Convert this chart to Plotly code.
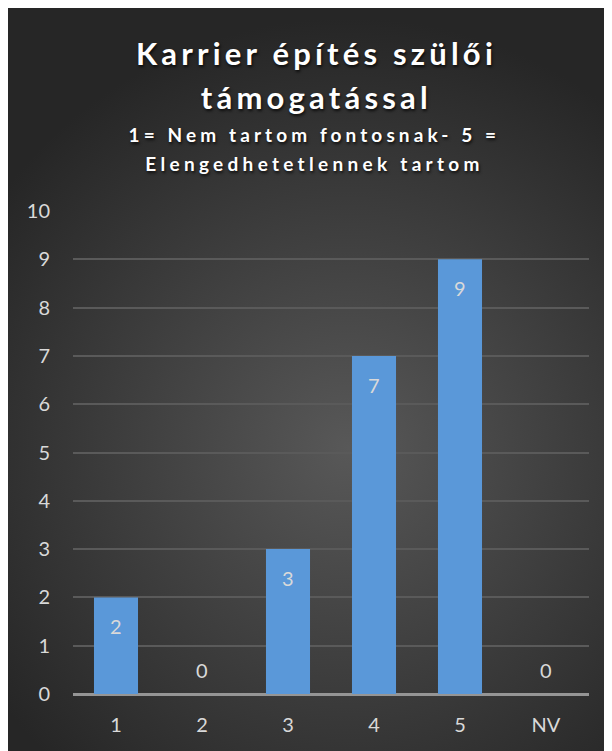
import base64
import json
import plotly.graph_objects as go

categories = ["1", "2", "3", "4", "5", "NV"]
values = [2, 0, 3, 7, 9, 0]
y_ticks = list(range(0, 11))

title_lines = ["Karrier építés szülői", "támogatással"]
subtitle_lines = ["1= Nem tartom fontosnak- 5 =", "Elengedhetetlennek tartom"]

# figure pixel geometry (page offset of 8px from the browser body margin)
W, H = 612, 751
L, R, T, B = 65, 31, 203, 65
pw, ph = W - L - R, H - T - B


def px_x(x):
    return (x - L) / pw


def px_y(y):
    return (H - B - y) / ph


svg = (
    '<svg xmlns="http://www.w3.org/2000/svg" width="612" height="751" viewBox="0 0 612 751" preserveAspectRatio="none">'
    '<defs><radialGradient id="g" gradientUnits="userSpaceOnUse" cx="340" cy="440" r="430">'
    '<stop offset="0%" stop-color="#585858"/>'
    '<stop offset="100%" stop-color="#262626"/>'
    '</radialGradient></defs>'
    '<rect x="0" y="0" width="612" height="751" fill="url(#g)"/></svg>'
)
src = "data:image/svg+xml;base64," + base64.b64encode(svg.encode()).decode()

fig = go.Figure()
fig.add_trace(go.Bar(
    x=categories, y=values,
    marker=dict(color="#5a98d9", line=dict(width=0)),
    width=0.512,
    hoverinfo="skip",
))

label_font = dict(family="Lato", size=20, color="#d9d9d9")
ann = []
for i, v in enumerate(values):
    ann.append(dict(
        x=i, y=v, xref="x", yref="y", text=str(v), showarrow=False,
        yanchor="middle", yshift=-29 if v > 0 else 24,
        font=label_font,
    ))

shadow = "1px 2px 3px rgba(0,0,0,0.75)"
title_font = dict(family="Lato", size=31, color="#ffffff", weight="bold", shadow=shadow)
sub_font = dict(family="Lato", size=19, color="#ffffff", weight="bold", shadow=shadow)
for txt, yc in zip(title_lines, [45, 89]):
    ann.append(dict(x=px_x(308), y=px_y(yc), xref="paper", yref="paper",
                    text=txt, showarrow=False, xanchor="center", yanchor="middle",
                    font=title_font))
for txt, yc in zip(subtitle_lines, [126.5, 155.5]):
    ann.append(dict(x=px_x(306), y=px_y(yc), xref="paper", yref="paper",
                    text=txt, showarrow=False, xanchor="center", yanchor="middle",
                    font=sub_font))

fig.update_layout(
    width=W, height=H,
    margin=dict(l=L, r=R, t=T, b=B, pad=0),
    paper_bgcolor="#2e2e2e",
    plot_bgcolor="rgba(0,0,0,0)",
    showlegend=False,
    bargap=0.488,
    annotations=ann,
    images=[dict(source=src, xref="paper", yref="paper",
                 x=px_x(0), y=px_y(0), sizex=W / pw, sizey=H / ph,
                 xanchor="left", yanchor="top", sizing="stretch", layer="below")],
    xaxis=dict(
        type="category",
        tickfont=label_font,
        showgrid=False, showline=False, ticks="", ticklabelstandoff=17,
        fixedrange=True,
    ),
    yaxis=dict(
        range=[0, 10], tickvals=y_ticks,
        tickfont=label_font,
        showgrid=True, gridcolor="#5a5a5a", gridwidth=1.5,
        zeroline=True, zerolinecolor="#959595", zerolinewidth=3,
        showline=False, ticks="", ticklabelstandoff=22,
        fixedrange=True,
    ),
)

spacing = {title_lines[0]: 4.2, title_lines[1]: 4.2,
           subtitle_lines[0]: 4.1, subtitle_lines[1]: 4.3}
post = """
var sp = %s;
var gd = document.querySelector('.plotly-graph-div');
gd.querySelectorAll('.annotation-text').forEach(function(t){
  var s = t.textContent;
  if (sp[s] !== undefined) { t.style.letterSpacing = sp[s] + 'px'; }
});
""" % json.dumps(spacing, ensure_ascii=False)

fig.write_html("out.html", post_script=post)
